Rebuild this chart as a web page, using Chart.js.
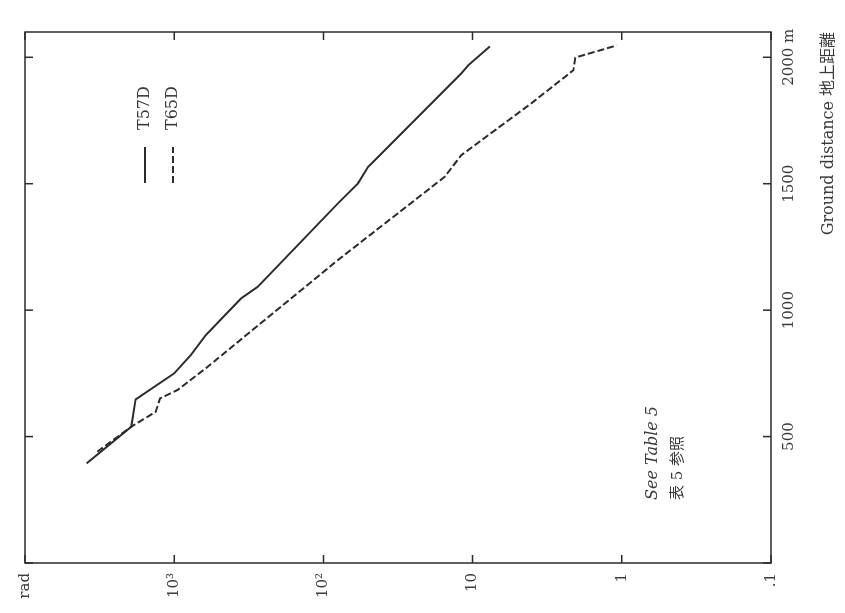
<!DOCTYPE html>
<html>
<head>
<meta charset="utf-8">
<script src="https://cdn.jsdelivr.net/npm/chart.js@4"></script>
<style>
  html, body { margin: 0; width: 845px; height: 613px; overflow: hidden; background: #fff; }
  /* the figure is printed sideways: draw it upright, then turn it */
  #page { position: absolute; left: 0; top: 0; width: 613px; height: 845px;
          transform-origin: 0 0; transform: translate(0, 613px) rotate(-90deg); }
</style>
</head>
<body>
<div id="page"><canvas id="myChart" width="613" height="845"></canvas></div>
<script>
// ground distance (m) and dose (rad)
const t57dDistance = [394, 539, 647, 750, 822, 901, 1046, 1092, 1422, 1501, 1566, 1936, 1968, 2043]
const t57dDose = [3870, 1940, 1815, 1000, 775, 614, 357, 276, 80, 58.7, 50.3, 11.9, 10.7, 7.65]

const t65dDistance = [440, 539, 598, 651, 684, 770, 1198, 1527, 1613, 1818, 1949, 1999, 2047]
const t65dDose = [3280, 1940, 1331, 1244, 951, 614, 80, 15.4, 11.9, 4.04, 2.11, 2.05, 1.08]

const distanceTicks = [0, 500, 1000, 1500, 2000]
const distanceLabels = ['', '500', '1000', '1500', '2000 m']
const doseTicks = [0.1, 1, 10, 100, 1000, 10000]
const doseLabels = ['.1', '1', '10', '10²', '10³', 'rad']

const seriesNames = ['T57D', 'T65D']
const noteLines = ['See Table 5', '表 5 参照']

const ink = '#2b2b2b'
const textInk = '#3a3a3a'
const serif = '"DejaVu Serif", "Noto Sans CJK JP", serif'

const toPoints = (xs, ys) => xs.map((d, i) => ({ x: d, y: ys[i] }))

const frame = {
  id: 'frame',
  afterDraw(chart) {
    const { ctx, chartArea: a, scales: { x, y } } = chart
    ctx.save()
    ctx.strokeStyle = ink
    ctx.lineWidth = 1.5
    ctx.strokeRect(a.left, a.top, a.right - a.left, a.bottom - a.top)

    // inward ticks on all four sides
    ctx.beginPath()
    distanceTicks.forEach(v => {
      const px = x.getPixelForValue(v)
      ctx.moveTo(px, a.bottom); ctx.lineTo(px, a.bottom - 8)
      ctx.moveTo(px, a.top); ctx.lineTo(px, a.top + 8)
    })
    doseTicks.forEach(v => {
      const py = y.getPixelForValue(v)
      ctx.moveTo(a.left, py); ctx.lineTo(a.left + 8, py)
      ctx.moveTo(a.right, py); ctx.lineTo(a.right - 8, py)
    })
    ctx.stroke()

    // legend, top right of the plot
    ctx.font = '16px ' + serif
    ctx.fillStyle = textInk
    ctx.textBaseline = 'middle'
    ctx.textAlign = 'left'
    chart.data.datasets.forEach((ds, i) => {
      const ly = a.top + 120 + i * 28
      ctx.beginPath()
      ctx.lineWidth = ds.borderWidth
      ctx.strokeStyle = ds.borderColor
      ctx.setLineDash(ds.borderDash || [])
      ctx.moveTo(a.left + 380, ly)
      ctx.lineTo(a.left + 416, ly)
      ctx.stroke()
      ctx.setLineDash([])
      ctx.fillText(ds.label, a.left + 433, ly)
    })

    // note
    ctx.font = 'italic 16px ' + serif
    ctx.fillText(noteLines[0], a.left + 63, a.top + 628)
    ctx.font = '15px ' + serif
    ctx.fillText(noteLines[1], a.left + 63, a.top + 653)
    ctx.restore()
  }
}

const ctx = document.getElementById('myChart').getContext('2d')

const data = {
  datasets: [{
    label: seriesNames[0],
    data: toPoints(t57dDistance, t57dDose),
    borderColor: ink,
    borderWidth: 2,
    showLine: true,
    pointRadius: 0
  }, {
    label: seriesNames[1],
    data: toPoints(t65dDistance, t65dDose),
    borderColor: ink,
    borderWidth: 2,
    borderDash: [7, 3],
    showLine: true,
    pointRadius: 0
  }]
}

const config = {
  type: 'scatter',
  data,
  options: {
    responsive: false,
    devicePixelRatio: 1,
    animation: false,
    layout: { padding: { top: 25, right: 32, left: 0, bottom: 0 } },
    plugins: { legend: { display: false }, tooltip: { enabled: false } },
    scales: {
      x: {
        type: 'linear',
        min: 0,
        max: 2100,
        afterBuildTicks: s => { s.ticks = distanceTicks.map(v => ({ value: v })) },
        afterFit: s => { s.height = 74 },
        grid: { display: false, drawTicks: false },
        border: { display: false },
        ticks: {
          autoSkip: false,
          maxRotation: 0,
          padding: 9,
          color: textInk,
          font: { family: serif, size: 15 },
          callback: v => distanceLabels[distanceTicks.indexOf(v)]
        },
        title: {
          display: true,
          text: 'Ground distance 地上距離',
          align: 'end',
          color: textInk,
          font: { family: serif, size: 16 },
          padding: { top: 0, bottom: 7 }
        }
      },
      y: {
        type: 'logarithmic',
        min: 0.1,
        max: 10000,
        afterBuildTicks: s => { s.ticks = doseTicks.map(v => ({ value: v })) },
        afterFit: s => { s.width = 50 },
        grid: { display: false, drawTicks: false },
        border: { display: false },
        ticks: {
          autoSkip: false,
          padding: 10,
          color: textInk,
          font: { family: serif, size: 15 },
          callback: v => doseLabels[doseTicks.indexOf(v)]
        }
      }
    }
  },
  plugins: [frame]
}

const myChart = new Chart(ctx, config)
</script>
</body>
</html>
